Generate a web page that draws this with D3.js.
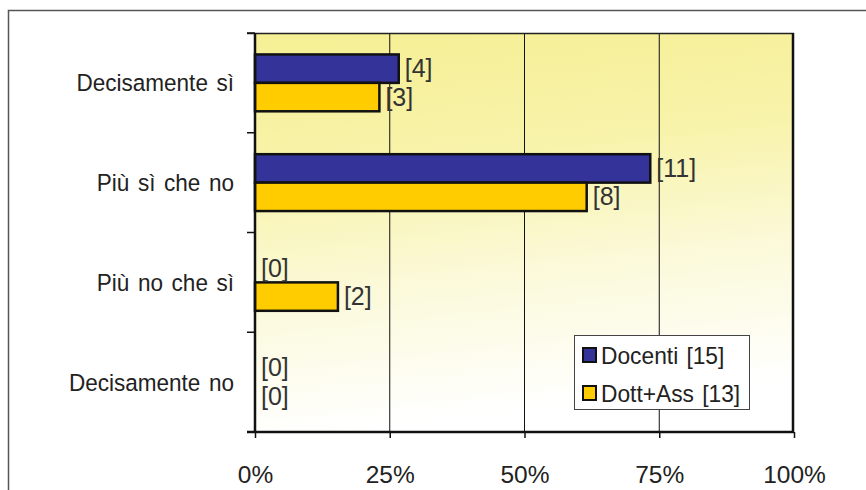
<!DOCTYPE html>
<html>
<head>
<meta charset="utf-8">
<script src="https://cdn.jsdelivr.net/npm/d3@7"></script>
<style>
  html, body { margin: 0; padding: 0; background: #ffffff; }
  svg { display: block; font-family: "Liberation Sans", Arial, Helvetica, sans-serif; }
</style>
</head>
<body>
<svg id="chart" width="866" height="490"></svg>
<script>
// Survey answers, counts per group
const categories = ["Decisamente sì", "Più sì che no", "Più no che sì", "Decisamente no"];
const seriesNames = ["Docenti", "Dott+Ass"];
const seriesTotals = [15, 13];
const docentiCounts = [4, 11, 0, 0];
const dottAssCounts = [3, 8, 2, 0];
const seriesColors = ["#333399", "#ffcc00"];
const xTicks = [0, 0.25, 0.5, 0.75, 1];

const counts = [docentiCounts, dottAssCounts];

const svg = d3.select("#chart");
const plot = { left: 255, top: 33, right: 794, bottom: 432 };

// Helper: text with optional horizontal condensing
function label(sel, x, y, txt, anchor, size, color, sx = 1, ws = 0) {
  return sel.append("text")
    .attr("transform", `translate(${x},${y}) scale(${sx},1)`)
    .attr("text-anchor", anchor)
    .attr("font-size", size)
    .attr("word-spacing", ws)
    .attr("fill", color)
    .text(txt);
}

// Outer frame (left and top edges)
svg.append("path")
  .attr("d", "M8.5,490 L8.5,10.5 L866,10.5")
  .attr("fill", "none").attr("stroke", "#555").attr("stroke-width", 1.5);

// Background gradient of the plot area
const defs = svg.append("defs");
const grad = defs.append("linearGradient").attr("id", "bg")
  .attr("x1", "0").attr("y1", "0").attr("x2", "0.15").attr("y2", "1");
grad.append("stop").attr("offset", "0%").attr("stop-color", "#f5ef94");
grad.append("stop").attr("offset", "35%").attr("stop-color", "#f8f3aa");
grad.append("stop").attr("offset", "65%").attr("stop-color", "#fbf9d8");
grad.append("stop").attr("offset", "100%").attr("stop-color", "#ffffff");

svg.append("rect")
  .attr("x", plot.left).attr("y", plot.top)
  .attr("width", plot.right - plot.left).attr("height", plot.bottom - plot.top)
  .attr("fill", "url(#bg)");

// Scales
const x = d3.scaleLinear().domain([0, 1]).range([plot.left, plot.right]);
const y = d3.scaleBand().domain(categories).range([plot.top, plot.bottom])
  .paddingInner(0.43).paddingOuter(0.215);
const ySub = d3.scaleBand().domain(seriesNames).range([0, y.bandwidth()]);
const step = y.step();

// Vertical gridlines
svg.append("g").selectAll("line")
  .data(xTicks.filter(t => t > 0 && t < 1))
  .join("line")
  .attr("x1", d => x(d)).attr("x2", d => x(d))
  .attr("y1", plot.top).attr("y2", plot.bottom)
  .attr("stroke", "#111").attr("stroke-width", 1);

// Plot border: thin top, heavy right
svg.append("line")
  .attr("x1", plot.left - 8).attr("x2", plot.right)
  .attr("y1", plot.top + 0.5).attr("y2", plot.top + 0.5)
  .attr("stroke", "#222").attr("stroke-width", 1.5);
svg.append("line")
  .attr("x1", plot.right - 1).attr("x2", plot.right - 1)
  .attr("y1", plot.top).attr("y2", plot.bottom)
  .attr("stroke", "#111").attr("stroke-width", 2.5);

// Bars and value labels
const data = [];
categories.forEach((c, i) => {
  seriesNames.forEach((s, j) => {
    data.push({ cat: c, series: s, count: counts[j][i], pct: counts[j][i] / seriesTotals[j], color: seriesColors[j] });
  });
});

const bars = svg.append("g");
bars.selectAll("rect")
  .data(data.filter(d => d.count > 0))
  .join("rect")
  .attr("x", x(0))
  .attr("y", d => y(d.cat) + ySub(d.series))
  .attr("width", d => x(d.pct) - x(0))
  .attr("height", ySub.bandwidth())
  .attr("fill", d => d.color)
  .attr("stroke", "#111").attr("stroke-width", 2.5);

const valLabels = svg.append("g");
data.forEach(d => {
  const cy = y(d.cat) + ySub(d.series) + ySub.bandwidth() / 2;
  label(valLabels, x(d.pct) + 6, cy + 8.5, `[${d.count}]`, "start", 25, "#333");
});

// Left axis (category axis) with ticks at band boundaries
const yBounds = d3.range(categories.length + 1).map(i => plot.top + i * step);
svg.append("g").selectAll("line")
  .data(yBounds)
  .join("line")
  .attr("x1", plot.left - 8).attr("x2", plot.left)
  .attr("y1", d => d).attr("y2", d => d)
  .attr("stroke", "#111").attr("stroke-width", 1.5);
svg.append("line")
  .attr("x1", plot.left).attr("x2", plot.left)
  .attr("y1", plot.top).attr("y2", plot.bottom)
  .attr("stroke", "#111").attr("stroke-width", 2.5);

const catLabels = svg.append("g");
categories.forEach(c => {
  label(catLabels, 234, y(c) + y.bandwidth() / 2 + 8.5, c, "end", 24.5, "#222", 0.92, 2.5);
});

// Bottom axis
const xAxis = d3.axisBottom(x).tickValues(xTicks).tickFormat(d3.format(".0%")).tickSize(6).tickPadding(0);
const gx = svg.append("g").attr("transform", `translate(0,${plot.bottom})`).call(xAxis);
gx.select(".domain").remove();
gx.selectAll(".tick line").attr("stroke", "#111").attr("stroke-width", 1.5);
gx.selectAll(".tick text").remove();
gx.selectAll(".tick").each(function(d) {
  label(d3.select(this), 0, 51, d3.format(".0%")(d), "middle", 24.5, "#222");
});
svg.append("line")
  .attr("x1", plot.left - 8).attr("x2", plot.right)
  .attr("y1", plot.bottom).attr("y2", plot.bottom)
  .attr("stroke", "#111").attr("stroke-width", 2.5);

// Legend
const legend = svg.append("g");
legend.append("rect")
  .attr("x", 574.5).attr("y", 335.5).attr("width", 175).attr("height", 74)
  .attr("fill", "#ffffff").attr("stroke", "#444").attr("stroke-width", 1);
seriesNames.forEach((s, j) => {
  const cy = 355 + j * 38;
  legend.append("rect")
    .attr("x", 583).attr("y", cy - 7).attr("width", 13).attr("height", 14)
    .attr("fill", seriesColors[j]).attr("stroke", "#111").attr("stroke-width", 2);
  label(legend, 601, cy + 8.5, `${s} [${seriesTotals[j]}]`, "start", 24.5, "#222", 0.93, 2);
});
</script>
</body>
</html>
